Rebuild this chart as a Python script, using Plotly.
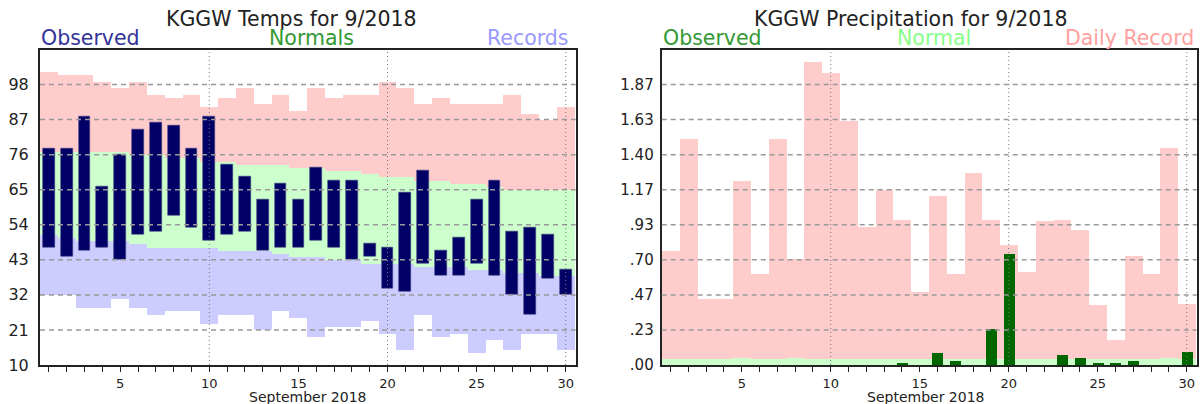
import plotly.graph_objects as go

# ---------------- data ----------------
days = list(range(1, 31))

# Temperatures (F)
obs_high = [78, 78, 88, 66, 76, 84, 86, 85, 78, 88, 73, 69, 62, 67, 62,
            72, 68, 68, 48, 47, 64, 71, 46, 50, 62, 68, 52, 53, 51, 40]
obs_low = [47, 44, 46, 47, 43, 51, 52, 57, 53, 49, 51, 52, 46, 47, 47,
           49, 47, 43, 44, 34, 33, 42, 38, 38, 42, 38, 32, 26, 37, 32]
norm_high = [77, 77, 77, 77, 77, 76, 76, 75, 75, 74, 74, 73, 73, 73, 72,
             72, 71, 71, 70, 69, 69, 68, 68, 67, 67, 66, 65, 65, 65, 65]
norm_low = [51, 50, 49, 49, 49, 48, 47, 47, 47, 47, 46, 46, 46, 45, 44,
            44, 43, 43, 42, 42, 42, 41, 41, 41, 40, 40, 39, 39, 38, 38]
rec_high = [102, 101, 101, 99, 97, 99, 95, 94, 95, 91, 94, 97, 92, 95, 90,
            97, 94, 95, 95, 99, 97, 92, 94, 92, 92, 92, 95, 89, 87, 91]
rec_low = [32, 32, 28, 28, 31, 28, 26, 27, 27, 23, 26, 26, 21, 27, 25,
           19, 22, 22, 24, 20, 15, 26, 19, 20, 14, 18, 15, 20, 20, 15]

temp_ticks = [10, 21, 32, 43, 54, 65, 76, 87, 98]
temp_range = [10, 109]

# Precipitation (in)
precip_obs = [0, 0, 0, 0, 0, 0, 0, 0, 0, 0, 0, 0, 0, 0.02, 0,
              0.08, 0.03, 0, 0.24, 0.74, 0, 0, 0.07, 0.05, 0.02,
              0.02, 0.03, 0, 0, 0.09]
precip_norm = [0.04, 0.04, 0.04, 0.04, 0.05, 0.04, 0.04, 0.05, 0.04, 0.04,
               0.04, 0.04, 0.04, 0.04, 0.04, 0.04, 0.04, 0.04, 0.04, 0.04,
               0.04, 0.04, 0.04, 0.04, 0.04, 0.04, 0.04, 0.04, 0.05, 0.04]
precip_rec = [0.76, 1.51, 0.44, 0.44, 1.23, 0.61, 1.51, 0.71, 2.02, 1.95,
              1.63, 0.92, 1.17, 0.97, 0.49, 1.13, 0.61, 1.28, 0.97, 0.80,
              0.62, 0.96, 0.97, 0.90, 0.40, 0.17, 0.73, 0.61, 1.45, 0.41]

precip_ticks = [0, 0.2333, 0.4667, 0.70, 0.9333, 1.1667, 1.40, 1.6333, 1.8667]
precip_tick_text = [".00", ".23", ".47", ".70", ".93", "1.17", "1.40", "1.63", "1.87"]
precip_range = [0, 2.1]

x_range = [0.5, 30.56]
x_major = [10, 20, 30]

# ---------------- styles ----------------
PINK = "#ffcccc"
LGREEN = "#ccffcc"
LAV = "#ccccff"
NAVY = "#000066"
DGREEN = "#006600"
FONT = "DejaVu Sans"

fig = go.Figure()

def band(x, base, top, color, xa, ya):
    return go.Bar(x=x, base=base, y=[t - b for t, b in zip(top, base)],
                  width=1, marker=dict(color=color, line=dict(width=0)),
                  xaxis=xa, yaxis=ya, showlegend=False, hoverinfo="skip")

# left chart
fig.add_trace(band(days, norm_high, rec_high, PINK, "x", "y"))
fig.add_trace(band(days, norm_low, norm_high, LGREEN, "x", "y"))
fig.add_trace(band(days, rec_low, norm_low, LAV, "x", "y"))
fig.add_trace(go.Bar(x=days, base=obs_low, y=[h - l for h, l in zip(obs_high, obs_low)],
                     width=0.66, marker=dict(color=NAVY, line=dict(width=0.6, color="#3c3c80")),
                     xaxis="x", yaxis="y", showlegend=False))

# right chart
fig.add_trace(band(days, [0] * 30, precip_rec, PINK, "x2", "y2"))
fig.add_trace(band(days, [0] * 30, precip_norm, LGREEN, "x2", "y2"))
fig.add_trace(go.Bar(x=days, y=precip_obs, width=0.62,
                     marker=dict(color=DGREEN, line=dict(width=0)),
                     xaxis="x2", yaxis="y2", showlegend=False))

W, H = 1204, 404
dom_y = [(H - 365) / H, (H - 49.5) / H]
dom_x1 = [40 / W, 575.7 / W]
dom_x2 = [661.7 / W, 1196.7 / W]

tick_text_x = [str(d) if d % 5 == 0 else "" for d in days]

xaxis_common = dict(range=x_range, tickvals=days, ticktext=tick_text_x,
                    ticks="outside", ticklen=5, tickcolor="#222", tickwidth=1,
                    showgrid=False, zeroline=False, showline=True, linecolor="#222",
                    linewidth=2, mirror=True, automargin=False,
                    tickfont=dict(family=FONT, size=13, color="#222"))
yaxis_common = dict(showgrid=False, zeroline=False, showline=True, linecolor="#222",
                    linewidth=2, mirror=True, ticks="", automargin=False,
                    domain=dom_y)

fig.update_layout(
    width=W, height=H, margin=dict(l=0, r=0, t=0, b=0),
    paper_bgcolor="white", plot_bgcolor="white",
    barmode="overlay", bargap=0, showlegend=False,
    xaxis=dict(domain=dom_x1, anchor="y", **xaxis_common),
    yaxis=dict(range=temp_range, tickvals=temp_ticks, ticktext=[str(t) for t in temp_ticks],
               anchor="x", ticklabelstandoff=6,
               tickfont=dict(family=FONT, size=16, color="#222"), **yaxis_common),
    xaxis2=dict(domain=dom_x2, anchor="y2", **xaxis_common),
    yaxis2=dict(range=precip_range, tickvals=precip_ticks, ticktext=precip_tick_text,
                anchor="x2", ticklabelstandoff=3,
                tickfont=dict(family=FONT, size=15, color="#222"), **yaxis_common),
)

# grid lines drawn above the bars
shapes = []
for v in temp_ticks[1:]:
    shapes.append(dict(type="line", xref="x domain", yref="y", x0=0, x1=1, y0=v, y1=v,
                       line=dict(color="#999999", width=1.5, dash="5px,4px"), layer="above"))
for v in precip_ticks[1:]:
    shapes.append(dict(type="line", xref="x2 domain", yref="y2", x0=0, x1=1, y0=v, y1=v,
                       line=dict(color="#999999", width=1.5, dash="5px,4px"), layer="above"))
for xa, ya in (("x", "y"), ("x2", "y2")):
    for d in x_major:
        shapes.append(dict(type="line", xref=xa, yref=ya + " domain", x0=d, x1=d, y0=0, y1=1,
                           line=dict(color="#777777", width=1, dash="1px,3px"), layer="above"))
fig.update_layout(shapes=shapes)

def py(px):
    return (H - px) / H

def px_x(px):
    return px / W

ann = []
# titles
ann.append(dict(text="KGGW Temps for 9/2018", x=px_x(291.5), y=py(19), xanchor="center",
                yanchor="middle", font=dict(family=FONT, size=20.5, color="#222")))
ann.append(dict(text="KGGW Precipitation for 9/2018", x=px_x(910), y=py(19), xanchor="center",
                yanchor="middle", font=dict(family=FONT, size=20.5, color="#222")))
# series labels left
ann.append(dict(text="Observed", x=px_x(39), y=py(38.5), xanchor="left", yanchor="middle",
                font=dict(family=FONT, size=20.5, color="#333399")))
ann.append(dict(text="Normals", x=px_x(311), y=py(38.5), xanchor="center", yanchor="middle",
                font=dict(family=FONT, size=20.5, color="#339933")))
ann.append(dict(text="Records", x=px_x(571), y=py(38.5), xanchor="right", yanchor="middle",
                font=dict(family=FONT, size=20.5, color="#9999ff")))
# series labels right
ann.append(dict(text="Observed", x=px_x(661), y=py(38.5), xanchor="left", yanchor="middle",
                font=dict(family=FONT, size=20.5, color="#339933")))
ann.append(dict(text="Normal", x=px_x(933.5), y=py(38.5), xanchor="center", yanchor="middle",
                font=dict(family=FONT, size=20.5, color="#88ff88")))
ann.append(dict(text="Daily Record", x=px_x(1196), y=py(38.5), xanchor="right", yanchor="middle",
                font=dict(family=FONT, size=20.5, color="#ffa0a0")))
# x-axis titles
ann.append(dict(text="September 2018", x=px_x(307.5), y=py(396.5), xanchor="center", yanchor="middle",
                font=dict(family=FONT, size=14, color="#222")))
ann.append(dict(text="September 2018", x=px_x(925), y=py(396.5), xanchor="center", yanchor="middle",
                font=dict(family=FONT, size=14, color="#222")))
for a in ann:
    a.update(xref="paper", yref="paper", showarrow=False)
fig.update_layout(annotations=ann)

fig.write_html("out.html", config={"displayModeBar": False},
               post_script="document.body.style.margin='0';document.body.style.padding='0';"
                           "document.body.style.overflow='hidden';")
